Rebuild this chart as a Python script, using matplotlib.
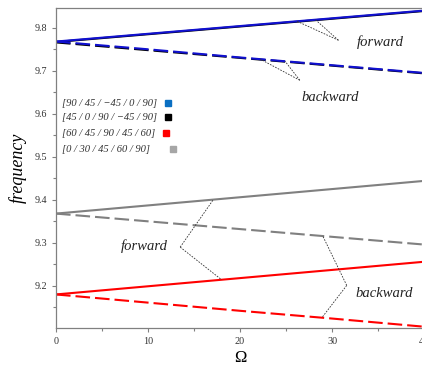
import numpy as np
import matplotlib
matplotlib.use("Agg")
import matplotlib.pyplot as plt
from matplotlib.ticker import MultipleLocator, FormatStrFormatter

# ---- data ----
omega = [0, 10, 20, 30, 40]
blue_fwd = [9.768, 9.786, 9.804, 9.822, 9.840]
blue_bwd = [9.768, 9.750, 9.731, 9.713, 9.695]
black_fwd = [9.767, 9.785, 9.803, 9.821, 9.839]
black_bwd = [9.766, 9.748, 9.730, 9.712, 9.694]
red_fwd = [9.180, 9.199, 9.218, 9.237, 9.256]
red_bwd = [9.180, 9.161, 9.142, 9.124, 9.105]
gray_fwd = [9.368, 9.387, 9.406, 9.425, 9.444]
gray_bwd = [9.368, 9.350, 9.332, 9.314, 9.296]

labels = ["[90 / 45 / \u221245 / 0 / 90]", "[45 / 0 / 90 / \u221245 / 90]",
          "[60 / 45 / 90 / 45 / 60]", "[0 / 30 / 45 / 60 / 90]"]
legend_colors = ['#0a6fc2', 'black', '#ff0000', '#a6a6a6']

plt.rcParams['font.family'] = ['Liberation Serif', 'DejaVu Serif']
plt.rcParams['mathtext.fontset'] = 'stix'

fig = plt.figure(figsize=(4.22, 3.66), dpi=100)
ax = fig.add_axes([56/422, 38/366, 368/422, 320/366])

dash = (0, (7, 2.4))
lw = 1.5
ax.plot(omega, black_fwd, color='black', lw=lw)
ax.plot(omega, black_bwd, color='black', lw=lw, ls=dash)
ax.plot(omega, blue_fwd, color='#1010d0', lw=lw)
ax.plot(omega, blue_bwd, color='#1010d0', lw=lw, ls=dash)
ax.plot(omega, gray_fwd, color='#808080', lw=lw)
ax.plot(omega, gray_bwd, color='#808080', lw=lw, ls=dash)
ax.plot(omega, red_fwd, color='#ff0000', lw=lw)
ax.plot(omega, red_bwd, color='#ff0000', lw=lw, ls=dash)

ax.set_xlim(0, 40)
ax.set_ylim(9.102, 9.846)
ax.xaxis.set_major_locator(MultipleLocator(10))
ax.xaxis.set_minor_locator(MultipleLocator(5))
ax.yaxis.set_major_locator(MultipleLocator(0.1))
ax.yaxis.set_minor_locator(MultipleLocator(0.05))
ax.yaxis.set_major_formatter(FormatStrFormatter('%.1f'))
ax.tick_params(which='both', direction='out', color='#808080', labelsize=7.3,
               labelcolor='#333333', length=3, width=0.8)
ax.tick_params(which='minor', length=2)
for s in ax.spines.values():
    s.set_color('#808080')
    s.set_linewidth(0.9)

ax.set_xlabel('\u03a9', fontsize=12, labelpad=3)
ax.set_ylabel('frequency', fontsize=13, style='italic', labelpad=5.5)

# legend (text left-aligned, colour squares in a column to the right)
row_y = [1 - (103 - 8) / 320, 1 - (117 - 8) / 320, 1 - (133 - 8) / 320, 1 - (149 - 8) / 320]
sq_x = [0.303, 0.303, 0.3, 0.318]
for lab, c, yy, sx in zip(labels, legend_colors, row_y, sq_x):
    ax.text(0.016, yy, lab, transform=ax.transAxes, fontsize=7.6, style='italic',
            ha='left', va='center', color='#333333')
    ax.plot([sx], [yy], transform=ax.transAxes, marker='s', markersize=4.6,
            color=c, ls='none')

# annotations
tfs = 10.5
def ann(text, tx, ty, vx, vy, targets):
    ax.text(tx, ty, text, fontsize=tfs, style='italic', ha='center', va='center',
            color='#222222')
    for xs, ys, x0 in targets:
        y0 = np.interp(x0, xs, ys)
        ax.plot([vx, x0], [vy, y0], color='#333333', lw=0.6, ls=(0, (2, 1.5)))

ann('forward', 35.3, 9.767, 30.7, 9.771,
    [(omega, blue_fwd, 26.2), (omega, blue_fwd, 28.2)])
ann('backward', 29.8, 9.639, 26.5, 9.678,
    [(omega, blue_bwd, 22.2), (omega, blue_bwd, 24.9)])
ann('forward', 9.6, 9.292, 13.5, 9.290,
    [(omega, gray_fwd, 17.1), (omega, red_fwd, 18.0)])
ann('backward', 35.7, 9.183, 31.6, 9.201,
    [(omega, gray_bwd, 29.0), (omega, red_bwd, 28.9)])

fig.savefig('out.png', dpi=100)
